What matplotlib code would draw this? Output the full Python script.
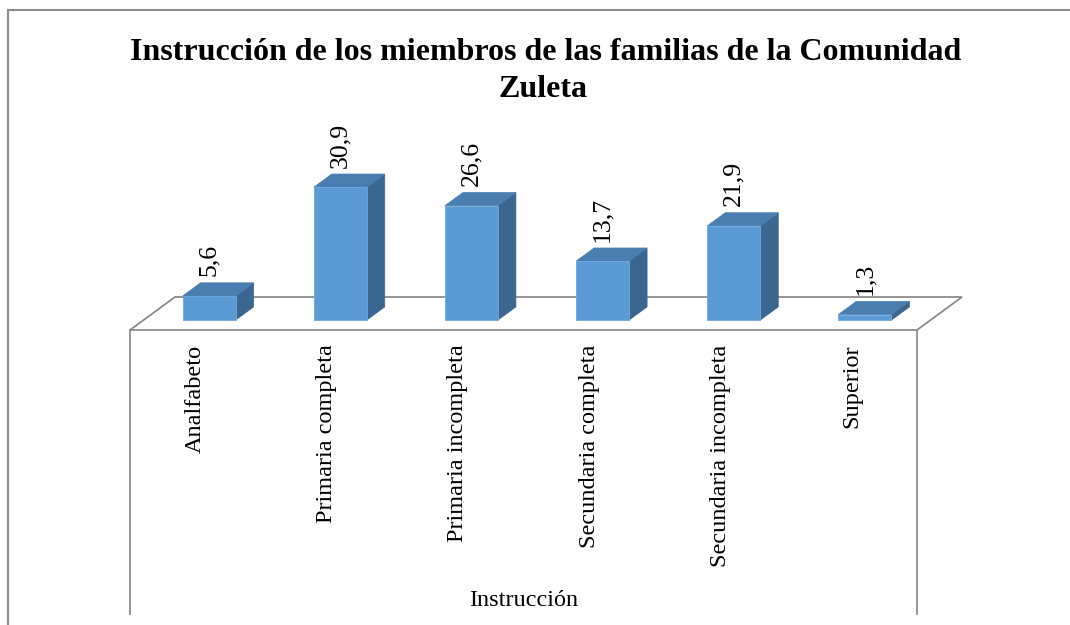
import matplotlib
matplotlib.use("Agg")
import matplotlib.pyplot as plt
from matplotlib.patches import Polygon
from matplotlib.lines import Line2D

categories = ['Analfabeto', 'Primaria completa', 'Primaria incompleta',
              'Secundaria completa', 'Secundaria incompleta', 'Superior']
values = [5.6, 30.9, 26.6, 13.7, 21.9, 1.3]
value_labels = ['5,6', '30,9', '26,6', '13,7', '21,9', '1,3']
title_lines = ['Instrucción de los miembros de las familias de la Comunidad', 'Zuleta']
x_title = 'Instrucción'

plt.rcParams['font.family'] = ['Liberation Serif', 'DejaVu Serif']

W, H = 1070, 625
fig = plt.figure(figsize=(W / 100, H / 100), dpi=100)
ax = fig.add_axes([0, 0, 1, 1])
ax.set_axis_off()

# pixel mapping used to set the axes limits
SX = 787 / 6.0
SY = 4.3
ax.set_xlim((0 - 130) / SX - 0.5, (W - 130) / SX - 0.5)
ax.set_ylim((330 - H) / SY, (330 - 0) / SY)

# oblique depth vector (full floor depth) in data units
DX = 45 / SX
DY = 33 / SY


def proj(x, y, z):
    return (x + z * DX, y + z * DY)


n = len(categories)
gray = '#8c8c8c'

# floor
fx0, fx1 = -0.5, n - 0.5
floor = [proj(fx0, 0, 0), proj(fx1, 0, 0), proj(fx1, 0, 1), proj(fx0, 0, 1)]
ax.add_patch(Polygon(floor, closed=True, facecolor='white', edgecolor=gray,
                     lw=1.3, zorder=1))
# vertical walls below floor front
y_bot = (330 - 614) / SY
ax.plot([fx0, fx0], [0, y_bot], color=gray, lw=1.3, zorder=1)
ax.plot([fx1, fx1], [0, y_bot], color=gray, lw=1.3, zorder=1)

# bars
w = 53 / SX
z0, z1 = 0.3, 0.7
c_front = '#5b9bd5'
c_top = '#4a7db0'
c_side = '#3b6690'
for i, v in enumerate(values):
    x0, x1 = i - w / 2, i + w / 2
    front = [proj(x0, 0, z0), proj(x1, 0, z0), proj(x1, v, z0), proj(x0, v, z0)]
    top = [proj(x0, v, z0), proj(x1, v, z0), proj(x1, v, z1), proj(x0, v, z1)]
    side = [proj(x1, 0, z0), proj(x1, 0, z1), proj(x1, v, z1), proj(x1, v, z0)]
    ax.add_patch(Polygon(side, closed=True, facecolor=c_side, edgecolor=c_side,
                         lw=0.5, zorder=3))
    ax.add_patch(Polygon(top, closed=True, facecolor=c_top, edgecolor=c_top,
                         lw=0.5, zorder=3))
    ax.add_patch(Polygon(front, closed=True, facecolor=c_front, edgecolor='#6fa8dc',
                         lw=0.6, zorder=4))
    lx, ly = proj(i, v, z1)
    fx, _ = proj(i, v, z0)
    ax.text(fx, ly + 1.5, value_labels[i], rotation=90, ha='center', va='bottom',
            fontsize=18.5, color='black', zorder=5)
    # category label
    ax.text(i, -3.4, categories[i], rotation=90, ha='center', va='top',
            fontsize=17.5, color='black', zorder=5)

# axis title
ax.text((fx0 + fx1) / 2, (330 - 600) / SY, x_title, ha='center', va='center',
        fontsize=17.5, color='black')

# chart title (two lines)
fig.text(546 / W, 1 - 60 / H, title_lines[0], ha='center', va='baseline',
         fontsize=23, fontweight='bold')
fig.text(543 / W, 1 - 97 / H, title_lines[1], ha='center', va='baseline',
         fontsize=23, fontweight='bold')

# outer chart border (top and left visible)
fig.add_artist(Line2D([8 / W, 1.0], [1 - 10 / H, 1 - 10 / H], color=gray, lw=1.5,
                      transform=fig.transFigure))
fig.add_artist(Line2D([8 / W, 8 / W], [0, 1 - 10 / H], color=gray, lw=1.5,
                      transform=fig.transFigure))

fig.savefig('out.png', dpi=100, facecolor='white')
